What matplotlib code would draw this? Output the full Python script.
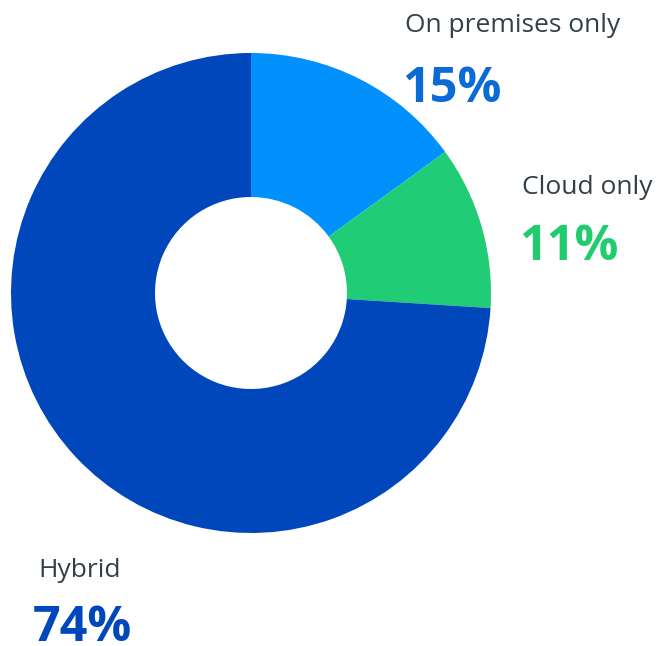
import matplotlib
matplotlib.use("Agg")
import matplotlib.pyplot as plt

categories = ["On premises only", "Cloud only", "Hybrid"]
values = [15, 11, 74]
pct_labels = ["15%", "11%", "74%"]
wedge_colors = ["#0091FF", "#21CC77", "#0047BB"]
pct_colors = ["#0A6AD6", "#21CC6E", "#0047BB"]

W, H = 668, 646
fig = plt.figure(figsize=(W / 100, H / 100), dpi=100)
cx, cy, r = 251, 293, 240
ax = fig.add_axes([(cx - r) / W, (H - cy - r) / H, 2 * r / W, 2 * r / H])
ax.pie(values, colors=wedge_colors, startangle=90, counterclock=False,
       radius=1, wedgeprops=dict(width=0.6, linewidth=0))
ax.set_xlim(-1, 1)
ax.set_ylim(-1, 1)
ax.set_aspect("equal")
ax.axis("off")

font = ["Open Sans", "DejaVu Sans"]
label_pos = [(405, 32), (522, 194), (38, 577)]
pct_pos = [(402, 102), (519, 260), (33, 641)]
for i in range(3):
    lx, ly = label_pos[i]
    fig.text(lx / W, 1 - ly / H, categories[i], fontsize=19, color="#333F48",
             family=font, va="baseline", ha="left")
    px, py = pct_pos[i]
    fig.text(px / W, 1 - py / H, pct_labels[i], fontsize=35, color=pct_colors[i],
             family=font, fontweight="bold", va="baseline", ha="left")

fig.savefig("out.png", dpi=100)
